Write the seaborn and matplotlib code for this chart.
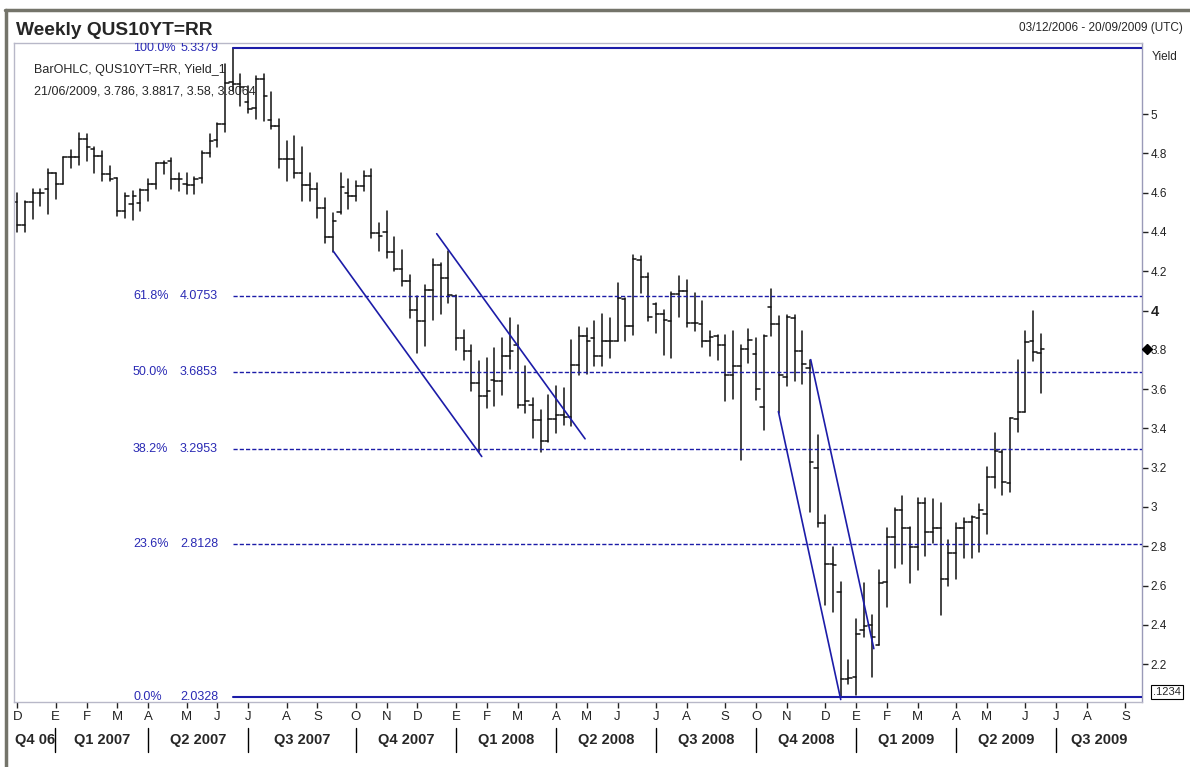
import numpy as np
import pandas as pd
import matplotlib
matplotlib.use('Agg')
import matplotlib.pyplot as plt
import matplotlib.transforms as mtransforms
from matplotlib.lines import Line2D
import seaborn as sns

# weekly OHLC of QUS10YT=RR, first week 03/12/2006, last bar 21/06/2009
opens = [4.55, 4.435, 4.55, 4.60, 4.617, 4.70, 4.643, 4.779, 4.779, 4.872,
         4.821, 4.787, 4.694, 4.677, 4.507, 4.541, 4.549, 4.612, 4.643, 4.753,
         4.762, 4.668, 4.643, 4.639, 4.677, 4.804, 4.867, 4.952, 5.161, 5.152,
         5.06, 5.03, 5.18, 4.97, 4.94, 4.77, 4.77, 4.70, 4.64, 4.617,
         4.524, 4.374, 4.50, 4.60, 4.583, 4.634, 4.685, 4.396, 4.40, 4.30,
         4.209, 4.15, 4.005, 3.945, 4.107, 4.234, 4.166, 4.073, 3.86, 3.793,
         3.631, 3.563, 3.648, 3.643, 3.767, 3.826, 3.52, 3.52, 3.444, 3.337,
         3.449, 3.47, 3.46, 3.724, 3.869, 3.86, 3.77, 3.847, 3.847, 4.06,
         3.92, 4.255, 4.17, 4.034, 3.983, 3.949, 4.085, 4.10, 3.937, 3.93,
         3.843, 3.869, 3.823, 3.673, 3.716, 3.806, 3.78, 3.507, 4.02, 3.932,
         3.66, 3.962, 3.792, 3.707, 3.197, 2.917, 2.708, 2.568, 2.123, 2.135,
         2.373, 2.40, 2.30, 2.619, 2.849, 2.985, 2.891, 2.796, 3.019, 2.871,
         2.891, 2.633, 2.764, 2.891, 2.925, 2.946, 2.963, 3.155, 3.279, 3.121,
         3.449, 3.483, 3.843, 3.786]
highs = [4.60, 4.56, 4.617, 4.617, 4.72, 4.70, 4.78, 4.816, 4.903, 4.898,
         4.83, 4.81, 4.736, 4.677, 4.60, 4.609, 4.617, 4.668, 4.753, 4.762,
         4.775, 4.702, 4.702, 4.68, 4.813, 4.898, 4.957, 5.255, 5.3379, 5.204,
         5.144, 5.195, 5.204, 5.11, 4.974, 4.864, 4.89, 4.83, 4.70, 4.651,
         4.575, 4.498, 4.70, 4.668, 4.66, 4.711, 4.719, 4.447, 4.506, 4.374,
         4.31, 4.183, 4.073, 4.132, 4.26, 4.243, 4.302, 4.081, 3.903, 3.826,
         3.741, 3.758, 3.809, 3.86, 3.962, 3.928, 3.716, 3.554, 3.495, 3.571,
         3.614, 3.605, 3.852, 3.915, 3.911, 3.949, 3.98, 3.962, 4.141, 4.064,
         4.282, 4.277, 4.192, 4.039, 4.005, 4.095, 4.175, 4.153, 4.09, 4.047,
         3.894, 3.874, 3.874, 3.894, 3.826, 3.908, 3.86, 3.874, 4.112, 3.971,
         3.976, 3.976, 3.894, 3.75, 3.367, 2.959, 2.798, 2.619, 2.22, 2.432,
         2.611, 2.449, 2.679, 2.891, 2.993, 3.058, 2.90, 3.048, 3.044, 3.041,
         3.019, 2.832, 2.917, 2.942, 2.955, 3.014, 3.206, 3.376, 3.291, 3.452,
         3.75, 3.898, 3.999, 3.8817]
lows = [4.40, 4.40, 4.464, 4.53, 4.49, 4.566, 4.643, 4.728, 4.742, 4.762,
        4.70, 4.66, 4.66, 4.481, 4.473, 4.459, 4.507, 4.558, 4.617, 4.694,
        4.617, 4.606, 4.595, 4.595, 4.651, 4.779, 4.830, 4.911, 5.119, 5.042,
        5.008, 4.974, 4.966, 4.923, 4.728, 4.66, 4.677, 4.558, 4.558, 4.473,
        4.345, 4.30, 4.49, 4.515, 4.56, 4.609, 4.371, 4.302, 4.268, 4.20,
        4.124, 3.962, 3.784, 3.818, 3.954, 3.98, 4.039, 3.80, 3.75, 3.588,
        3.282, 3.503, 3.512, 3.571, 3.70, 3.503, 3.478, 3.35, 3.282, 3.333,
        3.376, 3.418, 3.41, 3.673, 3.677, 3.716, 3.716, 3.758, 3.843, 3.843,
        3.877, 4.09, 3.945, 3.886, 3.772, 3.758, 3.966, 3.915, 3.894, 3.813,
        3.767, 3.75, 3.537, 3.551, 3.24, 3.733, 3.546, 3.393, 3.869, 3.478,
        3.614, 3.643, 3.626, 2.976, 2.90, 2.50, 2.466, 2.0328, 2.10, 2.041,
        2.339, 2.135, 2.296, 2.492, 2.687, 2.708, 2.611, 2.679, 2.752, 2.815,
        2.449, 2.599, 2.636, 2.738, 2.738, 2.772, 2.861, 3.095, 3.061, 3.075,
        3.384, 3.483, 3.741, 3.58]
closes = [4.435, 4.55, 4.60, 4.60, 4.70, 4.643, 4.779, 4.779, 4.872, 4.83,
          4.787, 4.694, 4.668, 4.507, 4.583, 4.583, 4.612, 4.643, 4.753, 4.753,
          4.668, 4.668, 4.639, 4.668, 4.804, 4.864, 4.952, 5.16, 5.152, 5.14,
          5.025, 5.18, 5.093, 4.94, 4.77, 4.77, 4.70, 4.64, 4.617, 4.524,
          4.374, 4.455, 4.63, 4.583, 4.634, 4.685, 4.396, 4.38, 4.30, 4.21,
          4.15, 4.005, 3.945, 4.107, 4.234, 4.166, 4.081, 3.86, 3.793, 3.631,
          3.563, 3.592, 3.643, 3.767, 3.793, 3.52, 3.537, 3.444, 3.337, 3.449,
          3.47, 3.46, 3.724, 3.869, 3.847, 3.77, 3.847, 3.847, 4.064, 3.92,
          4.26, 4.17, 3.966, 3.983, 3.954, 4.085, 4.10, 3.937, 3.937, 3.847,
          3.866, 3.823, 3.673, 3.716, 3.806, 3.852, 3.602, 3.869, 3.93, 3.673,
          3.966, 3.792, 3.728, 3.231, 2.917, 2.708, 2.704, 2.123, 2.13, 2.356,
          2.395, 2.339, 2.611, 2.849, 2.985, 2.891, 2.796, 3.019, 2.871, 2.891,
          2.633, 2.764, 2.891, 2.925, 2.95, 2.985, 3.155, 3.286, 3.126, 3.452,
          3.483, 3.84, 3.787, 3.8064]

# fibonacci retracement levels (drawn from the high week)
fib_pct = [100.0, 61.8, 50.0, 38.2, 23.6, 0.0]
fib_val = [5.3379, 4.0753, 3.6853, 3.2953, 2.8128, 2.0328]
fib_start = 28

# hand drawn trend lines: (week, yield) start and end
trend_lines = [((41.06, 4.302), (60.35, 3.257)),
               ((54.5, 4.391), (73.78, 3.347)),
               ((98.9, 3.486), (107.0, 2.02)),
               ((103.1, 3.750), (111.3, 2.279))]

month_initials = 'EFMAMJJASOND'
quarter_labels = ['Q4 06', 'Q1 2007', 'Q2 2007', 'Q3 2007', 'Q4 2007', 'Q1 2008',
                  'Q2 2008', 'Q3 2008', 'Q4 2008', 'Q1 2009', 'Q2 2009', 'Q3 2009']
yticks = [2.2, 2.4, 2.6, 2.8, 3.0, 3.2, 3.4, 3.6, 3.8, 4.0, 4.2, 4.4, 4.6, 4.8, 5.0]

weeks = pd.date_range('2006-12-03', '2009-09-20', freq='7D')

# long table of segments for seaborn
rows = []
for i in range(len(opens)):
    rows += [(i, highs[i], f'{i}hl'), (i, lows[i], f'{i}hl'),
             (i - 0.45, opens[i], f'{i}o'), (i, opens[i], f'{i}o'),
             (i, closes[i], f'{i}c'), (i + 0.45, closes[i], f'{i}c')]
seg = pd.DataFrame(rows, columns=['week', 'yield', 'unit'])

sns.set_style('white')
plt.rcParams['font.family'] = ['Liberation Sans', 'DejaVu Sans']

W, H = 1190, 767
fig = plt.figure(figsize=(W / 100, H / 100), dpi=100, facecolor='white')
ax = fig.add_axes([14 / W, 65.5 / H, 1128 / W, 658.2 / H])

blue = '#1c1ca8'
xmin, xmax = -0.43, 146.15

sns.lineplot(data=seg, x='week', y='yield', units='unit', estimator=None,
             sort=False, color='#111111', lw=1.1, legend=False, ax=ax)

# fib lines
tr = mtransforms.blended_transform_factory(ax.transAxes, ax.transData)
for p, v in zip(fib_pct, fib_val):
    if p in (0.0, 100.0):
        ax.plot([fib_start, xmax], [v, v], color=blue, lw=1.5, zorder=3)
    else:
        ax.plot([fib_start, xmax], [v, v], color=blue, lw=1.0,
                dashes=(3, 1.5), zorder=3)
    ax.text(0.1055, v, f'{p:.1f}%', transform=tr, va='center', ha='left',
            fontsize=9, color='#2a2ab4', clip_on=True)
    ax.text(0.1472, v, f'{v:.4f}', transform=tr, va='center', ha='left',
            fontsize=9, color='#2a2ab4', clip_on=True)

for (x0, y0), (x1, y1) in trend_lines:
    ax.plot([x0, x1], [y0, y1], color=blue, lw=1.2, zorder=3)

ax.set_xlim(xmin, xmax)
ax.set_ylim(2.0099, 5.3603)
ax.set_xlabel('')
ax.set_ylabel('')

# month ticks at first week of each month
month_idx = [i for i in range(len(weeks)) if i == 0 or weeks[i].month != weeks[i - 1].month]
ax.set_xticks(month_idx)
ax.set_xticklabels([month_initials[weeks[i].month - 1] for i in month_idx])
ax.tick_params(axis='x', direction='out', length=4, width=1, pad=3,
               labelsize=9.5, colors='#222222', bottom=True)

ax.yaxis.tick_right()
ax.set_yticks(yticks)
ax.set_yticklabels([f'{v:g}' for v in yticks])
ax.tick_params(axis='y', direction='out', length=4, width=1, pad=2,
               labelsize=8.5, colors='#222222', right=True, left=False)
for lab in ax.get_yticklabels():
    if lab.get_text() == '4':
        lab.set_fontweight('bold')
        lab.set_fontsize(10.5)

for name, sp in ax.spines.items():
    sp.set_visible(True)
    sp.set_linewidth(1)
    sp.set_color('#b8b8c8')
ax.spines['right'].set_color('#9a9ab8')

# quarter row
qb = [i for i in month_idx if weeks[i].month in (1, 4, 7, 10) and i > 0]
bounds = [xmin] + qb + [xmax]
trx = mtransforms.blended_transform_factory(ax.transData, ax.transAxes)
for k, lab in enumerate(quarter_labels):
    ax.text((bounds[k] + bounds[k + 1]) / 2, -0.058, lab, transform=trx,
            ha='center', va='center', fontsize=10.5, fontweight='bold')
for b in qb:
    ax.plot([b - 0.05, b - 0.05], [-0.040, -0.077], transform=trx,
            color='black', lw=1.0, clip_on=False)

# current value marker on the axis
ax.plot([1.0045], [closes[-1]], transform=tr, marker='D', ms=5.5,
        color='black', clip_on=False, zorder=5)

# header and info texts
fig.text(16 / W, 1 - 35 / H, 'Weekly QUS10YT=RR', fontsize=13.8,
         fontweight='bold', va='baseline', ha='left')
fig.text(1183 / W, 1 - 28 / H, '03/12/2006 - 20/09/2009 (UTC)', fontsize=8.5,
         ha='right', va='center')
fig.text(34 / W, 1 - 70 / H, 'BarOHLC, QUS10YT=RR, Yield_1', fontsize=9,
         ha='left', va='center', zorder=0)
last = len(opens) - 1
fig.text(34 / W, 1 - 92 / H,
         f'{weeks[last]:%d/%m/%Y}, {opens[last]}, {highs[last]}, {lows[last]}, {closes[last]}',
         fontsize=9, ha='left', va='center', zorder=0)
fig.text(1152 / W, 1 - 57 / H, 'Yield', fontsize=8.5, ha='left', va='center')
fig.text(1153 / W, 1 - 692 / H, '.1234', fontsize=8, ha='left', va='center',
         bbox=dict(boxstyle='square,pad=0.15', fc='white', ec='black', lw=0.8))

# outer frame
fig.add_artist(Line2D([5 / W, 1], [1 - 9.5 / H, 1 - 9.5 / H], color='#74746a', lw=2.5))
fig.add_artist(Line2D([5.5 / W, 5.5 / W], [1 - 9.5 / H, 0], color='#74746a', lw=2.5))

fig.savefig('out.png', dpi=100, facecolor='white')
